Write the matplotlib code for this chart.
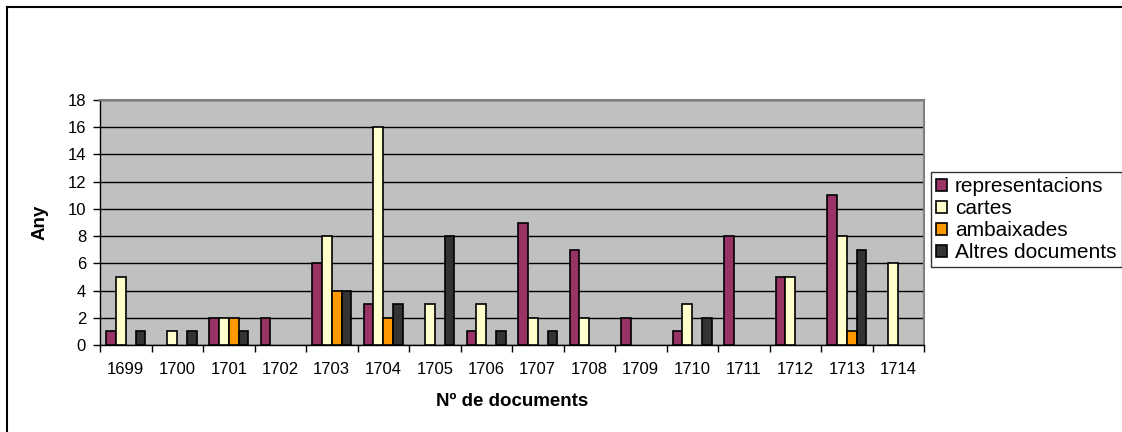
import matplotlib.pyplot as plt
from matplotlib.lines import Line2D
import numpy as np

plt.rcParams['font.family'] = ['Liberation Sans', 'DejaVu Sans']

years = ['1699', '1700', '1701', '1702', '1703', '1704', '1705', '1706',
         '1707', '1708', '1709', '1710', '1711', '1712', '1713', '1714']
representacions = [1, 0, 2, 2, 6, 3, 0, 1, 9, 7, 2, 1, 8, 5, 11, 0]
cartes = [5, 1, 2, 0, 8, 16, 3, 3, 2, 2, 0, 3, 0, 5, 8, 6]
ambaixades = [0, 0, 2, 0, 4, 2, 0, 0, 0, 0, 0, 0, 0, 0, 1, 0]
altres = [1, 1, 1, 0, 4, 3, 8, 1, 1, 0, 0, 2, 0, 0, 7, 0]

series = [
    ('representacions', representacions, '#993366'),
    ('cartes', cartes, '#FFFFCC'),
    ('ambaixades', ambaixades, '#FF9900'),
    ('Altres documents', altres, '#333333'),
]

W, H = 1122, 432
fig = plt.figure(figsize=(W / 100, H / 100), dpi=100)
ax = fig.add_axes([100 / W, 1 - 345 / H, 824 / W, 245 / H])
ax.set_facecolor('#C0C0C0')

x = np.arange(len(years))
w = 0.19
for i, (name, vals, col) in enumerate(series):
    vals = np.array(vals, dtype=float)
    keep = vals > 0  # Excel draws nothing for zero values
    ax.bar(x[keep] + (i - 1.5) * w, vals[keep], w, color=col, edgecolor='black',
           linewidth=1.2, label=name, zorder=3)

ax.set_xlim(-0.5, len(years) - 0.5)
ax.set_ylim(0, 18)
ax.set_yticks(range(0, 19, 2))
ax.yaxis.grid(True, color='black', linewidth=1, zorder=1)
ax.set_axisbelow(True)

ax.set_xticks(x)
ax.set_xticklabels(years)
ax.set_xticks(np.arange(-0.5, len(years)), minor=True)
ax.tick_params(axis='x', which='major', length=0, pad=12, labelsize=12)
ax.tick_params(axis='x', which='minor', length=5, width=1, direction='out')
ax.tick_params(axis='y', length=5, width=1, labelsize=12, pad=5)

for s in ['top', 'right']:
    ax.spines[s].set_color('#808080')
    ax.spines[s].set_linewidth(1.5)
for s in ['left', 'bottom']:
    ax.spines[s].set_color('black')
    ax.spines[s].set_linewidth(1)

ax.set_ylabel('Any', fontsize=13.5, fontweight='bold', labelpad=14)
ax.set_xlabel('Nº de documents', fontsize=13.5, fontweight='bold', labelpad=12)

leg = fig.legend(loc='upper left', bbox_to_anchor=(931 / W, 1 - 172 / H),
                 fontsize=15, frameon=True, fancybox=False, borderpad=0.25,
                 handlelength=0.5, handleheight=0.5, handletextpad=0.4,
                 labelspacing=0.14, borderaxespad=0)
leg.get_frame().set_edgecolor('black')
leg.get_frame().set_linewidth(1)

# chart border: only the left and top edges fall inside the picture
fig.add_artist(Line2D([7 / W, 7 / W], [-0.05, 1 - 7 / H], transform=fig.transFigure,
                      color='black', linewidth=1.5))
fig.add_artist(Line2D([7 / W, 1.05], [1 - 7 / H, 1 - 7 / H], transform=fig.transFigure,
                      color='black', linewidth=1.5))

fig.savefig('out.png', dpi=100)
